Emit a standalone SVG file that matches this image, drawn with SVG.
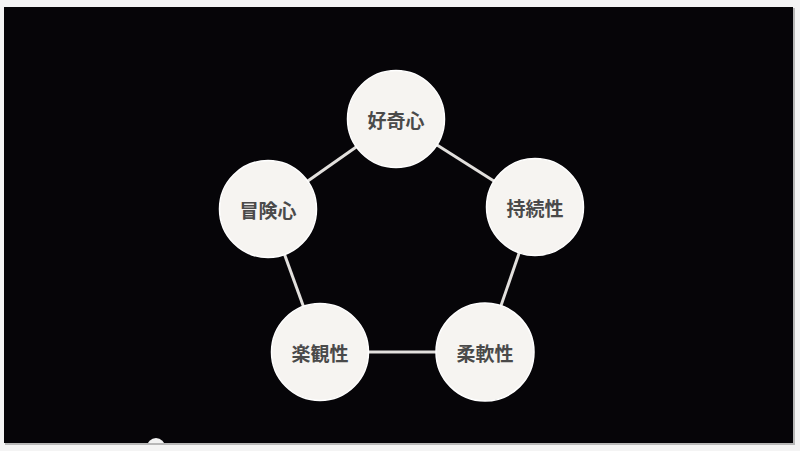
<svg xmlns="http://www.w3.org/2000/svg" width="800" height="451" viewBox="0 0 800 451">
<defs>
<style>
.node{fill:#f6f4f1;stroke:#ffffff;stroke-width:1.5}
.lbl{font-family:"Noto Sans CJK JP","Noto Sans CJK SC",sans-serif;font-size:19px;font-weight:bold;fill:#4a4a4a;text-anchor:middle;dominant-baseline:central}
.edge{stroke:#e2e0dd;stroke-width:3;fill:none}
</style>
<clipPath id="scr"><rect x="4" y="7" width="789" height="436"/></clipPath>
</defs>
<rect x="0" y="0" width="800" height="451" fill="#f4f4f4"/>
<rect x="5" y="8" width="790" height="437" fill="#b8b8b8"/>
<rect x="4" y="7" width="789" height="436" fill="#060508"/>
<g id="connectors">
<line class="edge" x1="396" y1="119" x2="535" y2="207"/>
<line class="edge" x1="535" y1="207" x2="485" y2="352"/>
<line class="edge" x1="485" y1="352" x2="320" y2="352"/>
<line class="edge" x1="320" y1="352" x2="268" y2="209"/>
<line class="edge" x1="268" y1="209" x2="396" y2="119"/>
</g>
<g id="n1"><circle class="node" cx="396" cy="119" r="48.5"/><text class="lbl" x="396" y="119">好奇心</text></g>
<g id="n2"><circle class="node" cx="535" cy="207" r="48.5"/><text class="lbl" x="535" y="207">持続性</text></g>
<g id="n3"><circle class="node" cx="485" cy="352" r="49"/><text class="lbl" x="485" y="352">柔軟性</text></g>
<g id="n4"><circle class="node" cx="320" cy="352" r="48.5"/><text class="lbl" x="320" y="352">楽観性</text></g>
<g id="n5"><circle class="node" cx="268" cy="209" r="48.5"/><text class="lbl" x="268" y="209">冒険心</text></g>
<circle cx="156" cy="447" r="9" fill="#f2f2f2" clip-path="url(#scr)"/>
</svg>
